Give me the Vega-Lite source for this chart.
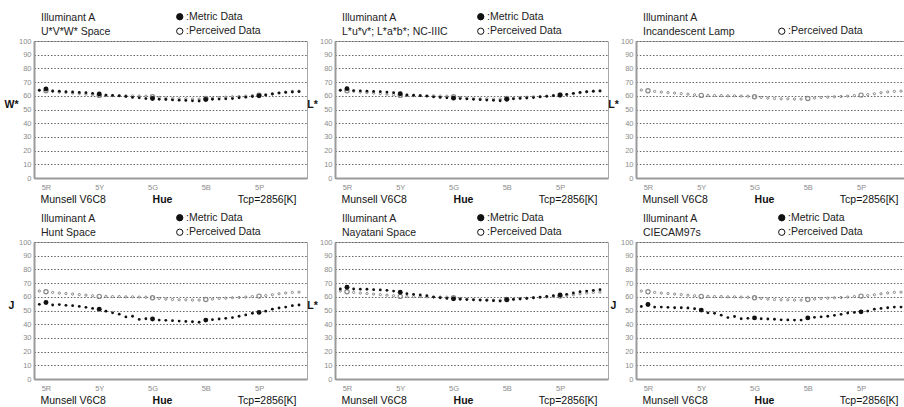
{
  "$schema": "https://vega.github.io/schema/vega-lite/v6.json",
  "background": "white",
  "padding": {"left": 3, "top": 11, "right": 0, "bottom": 0},
  "bounds": "flush",
  "columns": 3,
  "spacing": {"row": 64, "column": 28},
  "datasets": {
    "perceived": [
      {"hue": "2.5R", "value": 64.2}, {"hue": "5R", "value": 63.7}, {"hue": "7.5R", "value": 63.2}, {"hue": "10R", "value": 62.7},
      {"hue": "2.5YR", "value": 62.4}, {"hue": "5YR", "value": 62.0}, {"hue": "7.5YR", "value": 61.6}, {"hue": "10YR", "value": 61.2},
      {"hue": "2.5Y", "value": 60.8}, {"hue": "5Y", "value": 60.3}, {"hue": "7.5Y", "value": 60.3}, {"hue": "10Y", "value": 60.2},
      {"hue": "2.5GY", "value": 60.2}, {"hue": "5GY", "value": 60.0}, {"hue": "7.5GY", "value": 60.0}, {"hue": "10GY", "value": 59.8},
      {"hue": "2.5G", "value": 59.7}, {"hue": "5G", "value": 59.3}, {"hue": "7.5G", "value": 58.8}, {"hue": "10G", "value": 58.3},
      {"hue": "2.5BG", "value": 58.0}, {"hue": "5BG", "value": 57.8}, {"hue": "7.5BG", "value": 57.8}, {"hue": "10BG", "value": 57.6},
      {"hue": "2.5B", "value": 57.6}, {"hue": "5B", "value": 58.0}, {"hue": "7.5B", "value": 58.3}, {"hue": "10B", "value": 58.8},
      {"hue": "2.5PB", "value": 59.0}, {"hue": "5PB", "value": 59.3}, {"hue": "7.5PB", "value": 59.5}, {"hue": "10PB", "value": 59.8},
      {"hue": "2.5P", "value": 60.2}, {"hue": "5P", "value": 60.5}, {"hue": "7.5P", "value": 60.9}, {"hue": "10P", "value": 61.5},
      {"hue": "2.5RP", "value": 62.2}, {"hue": "5RP", "value": 62.8}, {"hue": "7.5RP", "value": 63.2}, {"hue": "10RP", "value": 63.4}
    ],
    "metric": [
      {"panel": "UVW", "hue": "2.5R", "value": 64.0}, {"panel": "UVW", "hue": "5R", "value": 65.0}, {"panel": "UVW", "hue": "7.5R", "value": 63.5}, {"panel": "UVW", "hue": "10R", "value": 63.3},
      {"panel": "UVW", "hue": "2.5YR", "value": 63.0}, {"panel": "UVW", "hue": "5YR", "value": 62.8}, {"panel": "UVW", "hue": "7.5YR", "value": 62.5}, {"panel": "UVW", "hue": "10YR", "value": 62.3},
      {"panel": "UVW", "hue": "2.5Y", "value": 61.8}, {"panel": "UVW", "hue": "5Y", "value": 61.3}, {"panel": "UVW", "hue": "7.5Y", "value": 60.5}, {"panel": "UVW", "hue": "10Y", "value": 60.3},
      {"panel": "UVW", "hue": "2.5GY", "value": 60.0}, {"panel": "UVW", "hue": "5GY", "value": 59.5}, {"panel": "UVW", "hue": "7.5GY", "value": 58.8}, {"panel": "UVW", "hue": "10GY", "value": 58.5},
      {"panel": "UVW", "hue": "2.5G", "value": 58.0}, {"panel": "UVW", "hue": "5G", "value": 58.0}, {"panel": "UVW", "hue": "7.5G", "value": 57.5}, {"panel": "UVW", "hue": "10G", "value": 57.3},
      {"panel": "UVW", "hue": "2.5BG", "value": 57.0}, {"panel": "UVW", "hue": "5BG", "value": 56.8}, {"panel": "UVW", "hue": "7.5BG", "value": 56.6}, {"panel": "UVW", "hue": "10BG", "value": 56.3},
      {"panel": "UVW", "hue": "2.5B", "value": 56.2}, {"panel": "UVW", "hue": "5B", "value": 57.3}, {"panel": "UVW", "hue": "7.5B", "value": 57.5}, {"panel": "UVW", "hue": "10B", "value": 57.6},
      {"panel": "UVW", "hue": "2.5PB", "value": 57.8}, {"panel": "UVW", "hue": "5PB", "value": 58.0}, {"panel": "UVW", "hue": "7.5PB", "value": 58.6}, {"panel": "UVW", "hue": "10PB", "value": 59.0},
      {"panel": "UVW", "hue": "2.5P", "value": 59.5}, {"panel": "UVW", "hue": "5P", "value": 60.0}, {"panel": "UVW", "hue": "7.5P", "value": 60.5}, {"panel": "UVW", "hue": "10P", "value": 61.3},
      {"panel": "UVW", "hue": "2.5RP", "value": 62.0}, {"panel": "UVW", "hue": "5RP", "value": 62.5}, {"panel": "UVW", "hue": "7.5RP", "value": 62.8}, {"panel": "UVW", "hue": "10RP", "value": 63.0},

      {"panel": "Luv", "hue": "2.5R", "value": 64.0}, {"panel": "Luv", "hue": "5R", "value": 65.2}, {"panel": "Luv", "hue": "7.5R", "value": 63.8}, {"panel": "Luv", "hue": "10R", "value": 63.6},
      {"panel": "Luv", "hue": "2.5YR", "value": 63.4}, {"panel": "Luv", "hue": "5YR", "value": 63.2}, {"panel": "Luv", "hue": "7.5YR", "value": 63.0}, {"panel": "Luv", "hue": "10YR", "value": 62.7},
      {"panel": "Luv", "hue": "2.5Y", "value": 62.3}, {"panel": "Luv", "hue": "5Y", "value": 61.5}, {"panel": "Luv", "hue": "7.5Y", "value": 60.6}, {"panel": "Luv", "hue": "10Y", "value": 60.4},
      {"panel": "Luv", "hue": "2.5GY", "value": 60.1}, {"panel": "Luv", "hue": "5GY", "value": 59.8}, {"panel": "Luv", "hue": "7.5GY", "value": 59.2}, {"panel": "Luv", "hue": "10GY", "value": 58.8},
      {"panel": "Luv", "hue": "2.5G", "value": 58.5}, {"panel": "Luv", "hue": "5G", "value": 58.3}, {"panel": "Luv", "hue": "7.5G", "value": 58.0}, {"panel": "Luv", "hue": "10G", "value": 57.7},
      {"panel": "Luv", "hue": "2.5BG", "value": 57.4}, {"panel": "Luv", "hue": "5BG", "value": 57.2}, {"panel": "Luv", "hue": "7.5BG", "value": 56.9}, {"panel": "Luv", "hue": "10BG", "value": 56.7},
      {"panel": "Luv", "hue": "2.5B", "value": 56.4}, {"panel": "Luv", "hue": "5B", "value": 57.5}, {"panel": "Luv", "hue": "7.5B", "value": 57.8}, {"panel": "Luv", "hue": "10B", "value": 58.1},
      {"panel": "Luv", "hue": "2.5PB", "value": 58.4}, {"panel": "Luv", "hue": "5PB", "value": 58.7}, {"panel": "Luv", "hue": "7.5PB", "value": 59.2}, {"panel": "Luv", "hue": "10PB", "value": 59.6},
      {"panel": "Luv", "hue": "2.5P", "value": 60.1}, {"panel": "Luv", "hue": "5P", "value": 60.6}, {"panel": "Luv", "hue": "7.5P", "value": 61.0}, {"panel": "Luv", "hue": "10P", "value": 61.8},
      {"panel": "Luv", "hue": "2.5RP", "value": 62.5}, {"panel": "Luv", "hue": "5RP", "value": 63.0}, {"panel": "Luv", "hue": "7.5RP", "value": 63.4}, {"panel": "Luv", "hue": "10RP", "value": 63.6},

      {"panel": "Hunt", "hue": "2.5R", "value": 54.5}, {"panel": "Hunt", "hue": "5R", "value": 55.8}, {"panel": "Hunt", "hue": "7.5R", "value": 54.0}, {"panel": "Hunt", "hue": "10R", "value": 54.3},
      {"panel": "Hunt", "hue": "2.5YR", "value": 53.8}, {"panel": "Hunt", "hue": "5YR", "value": 53.5}, {"panel": "Hunt", "hue": "7.5YR", "value": 53.0}, {"panel": "Hunt", "hue": "10YR", "value": 52.3},
      {"panel": "Hunt", "hue": "2.5Y", "value": 51.5}, {"panel": "Hunt", "hue": "5Y", "value": 51.0}, {"panel": "Hunt", "hue": "7.5Y", "value": 49.5}, {"panel": "Hunt", "hue": "10Y", "value": 48.3},
      {"panel": "Hunt", "hue": "2.5GY", "value": 47.3}, {"panel": "Hunt", "hue": "5GY", "value": 45.3}, {"panel": "Hunt", "hue": "7.5GY", "value": 45.8}, {"panel": "Hunt", "hue": "10GY", "value": 43.5},
      {"panel": "Hunt", "hue": "2.5G", "value": 44.0}, {"panel": "Hunt", "hue": "5G", "value": 43.8}, {"panel": "Hunt", "hue": "7.5G", "value": 43.0}, {"panel": "Hunt", "hue": "10G", "value": 42.8},
      {"panel": "Hunt", "hue": "2.5BG", "value": 42.6}, {"panel": "Hunt", "hue": "5BG", "value": 42.3}, {"panel": "Hunt", "hue": "7.5BG", "value": 42.0}, {"panel": "Hunt", "hue": "10BG", "value": 41.8},
      {"panel": "Hunt", "hue": "2.5B", "value": 41.4}, {"panel": "Hunt", "hue": "5B", "value": 43.0}, {"panel": "Hunt", "hue": "7.5B", "value": 43.3}, {"panel": "Hunt", "hue": "10B", "value": 43.8},
      {"panel": "Hunt", "hue": "2.5PB", "value": 44.3}, {"panel": "Hunt", "hue": "5PB", "value": 44.8}, {"panel": "Hunt", "hue": "7.5PB", "value": 45.8}, {"panel": "Hunt", "hue": "10PB", "value": 46.8},
      {"panel": "Hunt", "hue": "2.5P", "value": 48.0}, {"panel": "Hunt", "hue": "5P", "value": 48.6}, {"panel": "Hunt", "hue": "7.5P", "value": 49.5}, {"panel": "Hunt", "hue": "10P", "value": 51.0},
      {"panel": "Hunt", "hue": "2.5RP", "value": 51.8}, {"panel": "Hunt", "hue": "5RP", "value": 52.5}, {"panel": "Hunt", "hue": "7.5RP", "value": 53.5}, {"panel": "Hunt", "hue": "10RP", "value": 54.0},

      {"panel": "Nayatani", "hue": "2.5R", "value": 65.7}, {"panel": "Nayatani", "hue": "5R", "value": 67.0}, {"panel": "Nayatani", "hue": "7.5R", "value": 65.7}, {"panel": "Nayatani", "hue": "10R", "value": 65.6},
      {"panel": "Nayatani", "hue": "2.5YR", "value": 65.5}, {"panel": "Nayatani", "hue": "5YR", "value": 65.2}, {"panel": "Nayatani", "hue": "7.5YR", "value": 65.0}, {"panel": "Nayatani", "hue": "10YR", "value": 64.7},
      {"panel": "Nayatani", "hue": "2.5Y", "value": 64.2}, {"panel": "Nayatani", "hue": "5Y", "value": 63.3}, {"panel": "Nayatani", "hue": "7.5Y", "value": 62.3}, {"panel": "Nayatani", "hue": "10Y", "value": 61.8},
      {"panel": "Nayatani", "hue": "2.5GY", "value": 61.3}, {"panel": "Nayatani", "hue": "5GY", "value": 60.8}, {"panel": "Nayatani", "hue": "7.5GY", "value": 59.8}, {"panel": "Nayatani", "hue": "10GY", "value": 59.3},
      {"panel": "Nayatani", "hue": "2.5G", "value": 58.8}, {"panel": "Nayatani", "hue": "5G", "value": 58.5}, {"panel": "Nayatani", "hue": "7.5G", "value": 58.2}, {"panel": "Nayatani", "hue": "10G", "value": 58.0},
      {"panel": "Nayatani", "hue": "2.5BG", "value": 57.8}, {"panel": "Nayatani", "hue": "5BG", "value": 57.6}, {"panel": "Nayatani", "hue": "7.5BG", "value": 57.4}, {"panel": "Nayatani", "hue": "10BG", "value": 57.2},
      {"panel": "Nayatani", "hue": "2.5B", "value": 56.9}, {"panel": "Nayatani", "hue": "5B", "value": 57.8}, {"panel": "Nayatani", "hue": "7.5B", "value": 58.1}, {"panel": "Nayatani", "hue": "10B", "value": 58.4},
      {"panel": "Nayatani", "hue": "2.5PB", "value": 58.8}, {"panel": "Nayatani", "hue": "5PB", "value": 59.3}, {"panel": "Nayatani", "hue": "7.5PB", "value": 59.8}, {"panel": "Nayatani", "hue": "10PB", "value": 60.3},
      {"panel": "Nayatani", "hue": "2.5P", "value": 60.8}, {"panel": "Nayatani", "hue": "5P", "value": 61.3}, {"panel": "Nayatani", "hue": "7.5P", "value": 61.8}, {"panel": "Nayatani", "hue": "10P", "value": 62.8},
      {"panel": "Nayatani", "hue": "2.5RP", "value": 63.7}, {"panel": "Nayatani", "hue": "5RP", "value": 64.2}, {"panel": "Nayatani", "hue": "7.5RP", "value": 64.7}, {"panel": "Nayatani", "hue": "10RP", "value": 65.2},

      {"panel": "CIECAM97s", "hue": "2.5R", "value": 52.9}, {"panel": "CIECAM97s", "hue": "5R", "value": 54.4}, {"panel": "CIECAM97s", "hue": "7.5R", "value": 52.5}, {"panel": "CIECAM97s", "hue": "10R", "value": 52.5},
      {"panel": "CIECAM97s", "hue": "2.5YR", "value": 52.3}, {"panel": "CIECAM97s", "hue": "5YR", "value": 52.0}, {"panel": "CIECAM97s", "hue": "7.5YR", "value": 52.0}, {"panel": "CIECAM97s", "hue": "10YR", "value": 51.8},
      {"panel": "CIECAM97s", "hue": "2.5Y", "value": 51.3}, {"panel": "CIECAM97s", "hue": "5Y", "value": 50.3}, {"panel": "CIECAM97s", "hue": "7.5Y", "value": 48.3}, {"panel": "CIECAM97s", "hue": "10Y", "value": 48.0},
      {"panel": "CIECAM97s", "hue": "2.5GY", "value": 46.6}, {"panel": "CIECAM97s", "hue": "5GY", "value": 44.8}, {"panel": "CIECAM97s", "hue": "7.5GY", "value": 45.6}, {"panel": "CIECAM97s", "hue": "10GY", "value": 44.0},
      {"panel": "CIECAM97s", "hue": "2.5G", "value": 44.3}, {"panel": "CIECAM97s", "hue": "5G", "value": 44.6}, {"panel": "CIECAM97s", "hue": "7.5G", "value": 44.0}, {"panel": "CIECAM97s", "hue": "10G", "value": 43.8},
      {"panel": "CIECAM97s", "hue": "2.5BG", "value": 43.6}, {"panel": "CIECAM97s", "hue": "5BG", "value": 43.2}, {"panel": "CIECAM97s", "hue": "7.5BG", "value": 43.1}, {"panel": "CIECAM97s", "hue": "10BG", "value": 43.0},
      {"panel": "CIECAM97s", "hue": "2.5B", "value": 43.0}, {"panel": "CIECAM97s", "hue": "5B", "value": 44.6}, {"panel": "CIECAM97s", "hue": "7.5B", "value": 45.0}, {"panel": "CIECAM97s", "hue": "10B", "value": 45.4},
      {"panel": "CIECAM97s", "hue": "2.5PB", "value": 45.8}, {"panel": "CIECAM97s", "hue": "5PB", "value": 46.5}, {"panel": "CIECAM97s", "hue": "7.5PB", "value": 47.2}, {"panel": "CIECAM97s", "hue": "10PB", "value": 48.2},
      {"panel": "CIECAM97s", "hue": "2.5P", "value": 48.6}, {"panel": "CIECAM97s", "hue": "5P", "value": 49.0}, {"panel": "CIECAM97s", "hue": "7.5P", "value": 49.6}, {"panel": "CIECAM97s", "hue": "10P", "value": 51.0},
      {"panel": "CIECAM97s", "hue": "2.5RP", "value": 51.5}, {"panel": "CIECAM97s", "hue": "5RP", "value": 52.0}, {"panel": "CIECAM97s", "hue": "7.5RP", "value": 52.5}, {"panel": "CIECAM97s", "hue": "10RP", "value": 52.5}
    ]
  },
  "concat": [
    {
      "width": 273, "height": 137,
      "title": {"text": ["Illuminant A", "U*V*W* Space"]},
      "resolve": {"scale": {"x": "independent"}, "axis": {"x": "independent"}},
      "layer": [
        {
          "data": {"name": "perceived"},
          "transform": [{"filter": "indexof(['5R','5Y','5G','5B','5P'], datum.hue) < 0"}],
          "mark": {"type": "point", "shape": "circle", "size": 5, "opacity": 1, "stroke": "#888888", "strokeWidth": 1},
          "encoding": {
            "x": {"field": "hue", "type": "ordinal", "scale": {"type": "point", "domain": ["2.5R","5R","7.5R","10R","2.5YR","5YR","7.5YR","10YR","2.5Y","5Y","7.5Y","10Y","2.5GY","5GY","7.5GY","10GY","2.5G","5G","7.5G","10G","2.5BG","5BG","7.5BG","10BG","2.5B","5B","7.5B","10B","2.5PB","5PB","7.5PB","10PB","2.5P","5P","7.5P","10P","2.5RP","5RP","7.5RP","10RP"], "padding": 1.03, "align": 0.4},
              "axis": {"orient": "bottom", "values": ["5R","5Y","5G","5B","5P"], "labelAngle": 0, "labelPadding": 5, "grid": false, "title": "Hue", "titleFontWeight": "bold", "titleX": 128, "titleY": 24.5, "titleAlign": "center", "titleBaseline": "alphabetic"}},
            "y": {"field": "value", "type": "quantitative", "scale": {"domain": [0, 100]},
              "axis": {"values": [0,10,20,30,40,50,60,70,80,90,100], "tickCount": 11, "labelOverlap": false, "grid": true, "labelPadding": 3, "title": "W*", "titleAngle": 0, "titleFontWeight": "bold", "titleX": -23, "titleY": 63, "titleAlign": "center", "titleBaseline": "middle"}},
            "fill": {"datum": "Perceived Data", "type": "nominal", "scale": {"domain": ["Metric Data", "Perceived Data"], "range": ["#111111", "transparent"]},
              "legend": {"title": null, "legendX": 140.5, "legendY": -29.5, "labelExpr": "':' + datum.label"}}
          }
        },
        {
          "data": {"name": "metric"},
          "transform": [{"filter": "datum.panel == 'UVW' && indexof(['5R','5Y','5G','5B','5P'], datum.hue) < 0"}],
          "mark": {"type": "point", "shape": "circle", "size": 8, "opacity": 1, "strokeWidth": 0},
          "encoding": {
            "x": {"field": "hue", "type": "ordinal", "scale": {"type": "point", "domain": ["2.5R","5R","7.5R","10R","2.5YR","5YR","7.5YR","10YR","2.5Y","5Y","7.5Y","10Y","2.5GY","5GY","7.5GY","10GY","2.5G","5G","7.5G","10G","2.5BG","5BG","7.5BG","10BG","2.5B","5B","7.5B","10B","2.5PB","5PB","7.5PB","10PB","2.5P","5P","7.5P","10P","2.5RP","5RP","7.5RP","10RP"], "padding": 1.03, "align": 0.4},
              "axis": {"orient": "bottom", "labels": false, "domain": false, "grid": false, "title": "Munsell V6C8", "titleFontWeight": "normal", "titleX": 6, "titleY": 24.5, "titleAlign": "left", "titleBaseline": "alphabetic"}},
            "y": {"field": "value", "type": "quantitative"},
            "fill": {"datum": "Metric Data", "type": "nominal", "scale": {"domain": ["Metric Data", "Perceived Data"], "range": ["#111111", "transparent"]}}
          }
        },
        {
          "data": {"name": "perceived"},
          "transform": [{"filter": "indexof(['5R','5Y','5G','5B','5P'], datum.hue) >= 0"}],
          "mark": {"type": "point", "shape": "circle", "size": 18, "opacity": 1, "stroke": "#888888", "strokeWidth": 1.2},
          "encoding": {
            "x": {"field": "hue", "type": "ordinal", "scale": {"type": "point", "domain": ["2.5R","5R","7.5R","10R","2.5YR","5YR","7.5YR","10YR","2.5Y","5Y","7.5Y","10Y","2.5GY","5GY","7.5GY","10GY","2.5G","5G","7.5G","10G","2.5BG","5BG","7.5BG","10BG","2.5B","5B","7.5B","10B","2.5PB","5PB","7.5PB","10PB","2.5P","5P","7.5P","10P","2.5RP","5RP","7.5RP","10RP"], "padding": 1.03, "align": 0.4},
              "axis": {"orient": "bottom", "labels": false, "domain": false, "grid": false, "title": "Tcp=2856[K]", "titleFontWeight": "normal", "titleX": 262, "titleY": 24.5, "titleAlign": "right", "titleBaseline": "alphabetic"}},
            "y": {"field": "value", "type": "quantitative"},
            "fill": {"datum": "Perceived Data", "type": "nominal", "scale": {"domain": ["Metric Data", "Perceived Data"], "range": ["#111111", "transparent"]}}
          }
        },
        {
          "data": {"name": "metric"},
          "transform": [{"filter": "datum.panel == 'UVW' && indexof(['5R','5Y','5G','5B','5P'], datum.hue) >= 0"}],
          "mark": {"type": "point", "shape": "circle", "size": 24, "opacity": 1, "strokeWidth": 0},
          "encoding": {
            "x": {"field": "hue", "type": "ordinal", "scale": {"type": "point", "domain": ["2.5R","5R","7.5R","10R","2.5YR","5YR","7.5YR","10YR","2.5Y","5Y","7.5Y","10Y","2.5GY","5GY","7.5GY","10GY","2.5G","5G","7.5G","10G","2.5BG","5BG","7.5BG","10BG","2.5B","5B","7.5B","10B","2.5PB","5PB","7.5PB","10PB","2.5P","5P","7.5P","10P","2.5RP","5RP","7.5RP","10RP"], "padding": 1.03, "align": 0.4}, "axis": null},
            "y": {"field": "value", "type": "quantitative"},
            "fill": {"datum": "Metric Data", "type": "nominal", "scale": {"domain": ["Metric Data", "Perceived Data"], "range": ["#111111", "transparent"]}}
          }
        }
      ]
    },
    {
      "width": 273, "height": 137,
      "title": {"text": ["Illuminant A", "L*u*v*; L*a*b*; NC-IIIC"]},
      "resolve": {"scale": {"x": "independent"}, "axis": {"x": "independent"}},
      "layer": [
        {
          "data": {"name": "perceived"},
          "transform": [{"filter": "indexof(['5R','5Y','5G','5B','5P'], datum.hue) < 0"}],
          "mark": {"type": "point", "shape": "circle", "size": 5, "opacity": 1, "stroke": "#888888", "strokeWidth": 1},
          "encoding": {
            "x": {"field": "hue", "type": "ordinal", "scale": {"type": "point", "domain": ["2.5R","5R","7.5R","10R","2.5YR","5YR","7.5YR","10YR","2.5Y","5Y","7.5Y","10Y","2.5GY","5GY","7.5GY","10GY","2.5G","5G","7.5G","10G","2.5BG","5BG","7.5BG","10BG","2.5B","5B","7.5B","10B","2.5PB","5PB","7.5PB","10PB","2.5P","5P","7.5P","10P","2.5RP","5RP","7.5RP","10RP"], "padding": 1.03, "align": 0.4},
              "axis": {"orient": "bottom", "values": ["5R","5Y","5G","5B","5P"], "labelAngle": 0, "labelPadding": 5, "grid": false, "title": "Hue", "titleFontWeight": "bold", "titleX": 128, "titleY": 24.5, "titleAlign": "center", "titleBaseline": "alphabetic"}},
            "y": {"field": "value", "type": "quantitative", "scale": {"domain": [0, 100]},
              "axis": {"values": [0,10,20,30,40,50,60,70,80,90,100], "tickCount": 11, "labelOverlap": false, "grid": true, "labelPadding": 3, "title": "L*", "titleAngle": 0, "titleFontWeight": "bold", "titleX": -23, "titleY": 63, "titleAlign": "center", "titleBaseline": "middle"}},
            "fill": {"datum": "Perceived Data", "type": "nominal", "scale": {"domain": ["Metric Data", "Perceived Data"], "range": ["#111111", "transparent"]},
              "legend": {"title": null, "legendX": 140.5, "legendY": -29.5, "labelExpr": "':' + datum.label"}}
          }
        },
        {
          "data": {"name": "metric"},
          "transform": [{"filter": "datum.panel == 'Luv' && indexof(['5R','5Y','5G','5B','5P'], datum.hue) < 0"}],
          "mark": {"type": "point", "shape": "circle", "size": 8, "opacity": 1, "strokeWidth": 0},
          "encoding": {
            "x": {"field": "hue", "type": "ordinal", "scale": {"type": "point", "domain": ["2.5R","5R","7.5R","10R","2.5YR","5YR","7.5YR","10YR","2.5Y","5Y","7.5Y","10Y","2.5GY","5GY","7.5GY","10GY","2.5G","5G","7.5G","10G","2.5BG","5BG","7.5BG","10BG","2.5B","5B","7.5B","10B","2.5PB","5PB","7.5PB","10PB","2.5P","5P","7.5P","10P","2.5RP","5RP","7.5RP","10RP"], "padding": 1.03, "align": 0.4},
              "axis": {"orient": "bottom", "labels": false, "domain": false, "grid": false, "title": "Munsell V6C8", "titleFontWeight": "normal", "titleX": 6, "titleY": 24.5, "titleAlign": "left", "titleBaseline": "alphabetic"}},
            "y": {"field": "value", "type": "quantitative"},
            "fill": {"datum": "Metric Data", "type": "nominal", "scale": {"domain": ["Metric Data", "Perceived Data"], "range": ["#111111", "transparent"]}}
          }
        },
        {
          "data": {"name": "perceived"},
          "transform": [{"filter": "indexof(['5R','5Y','5G','5B','5P'], datum.hue) >= 0"}],
          "mark": {"type": "point", "shape": "circle", "size": 18, "opacity": 1, "stroke": "#888888", "strokeWidth": 1.2},
          "encoding": {
            "x": {"field": "hue", "type": "ordinal", "scale": {"type": "point", "domain": ["2.5R","5R","7.5R","10R","2.5YR","5YR","7.5YR","10YR","2.5Y","5Y","7.5Y","10Y","2.5GY","5GY","7.5GY","10GY","2.5G","5G","7.5G","10G","2.5BG","5BG","7.5BG","10BG","2.5B","5B","7.5B","10B","2.5PB","5PB","7.5PB","10PB","2.5P","5P","7.5P","10P","2.5RP","5RP","7.5RP","10RP"], "padding": 1.03, "align": 0.4},
              "axis": {"orient": "bottom", "labels": false, "domain": false, "grid": false, "title": "Tcp=2856[K]", "titleFontWeight": "normal", "titleX": 262, "titleY": 24.5, "titleAlign": "right", "titleBaseline": "alphabetic"}},
            "y": {"field": "value", "type": "quantitative"},
            "fill": {"datum": "Perceived Data", "type": "nominal", "scale": {"domain": ["Metric Data", "Perceived Data"], "range": ["#111111", "transparent"]}}
          }
        },
        {
          "data": {"name": "metric"},
          "transform": [{"filter": "datum.panel == 'Luv' && indexof(['5R','5Y','5G','5B','5P'], datum.hue) >= 0"}],
          "mark": {"type": "point", "shape": "circle", "size": 24, "opacity": 1, "strokeWidth": 0},
          "encoding": {
            "x": {"field": "hue", "type": "ordinal", "scale": {"type": "point", "domain": ["2.5R","5R","7.5R","10R","2.5YR","5YR","7.5YR","10YR","2.5Y","5Y","7.5Y","10Y","2.5GY","5GY","7.5GY","10GY","2.5G","5G","7.5G","10G","2.5BG","5BG","7.5BG","10BG","2.5B","5B","7.5B","10B","2.5PB","5PB","7.5PB","10PB","2.5P","5P","7.5P","10P","2.5RP","5RP","7.5RP","10RP"], "padding": 1.03, "align": 0.4}, "axis": null},
            "y": {"field": "value", "type": "quantitative"},
            "fill": {"datum": "Metric Data", "type": "nominal", "scale": {"domain": ["Metric Data", "Perceived Data"], "range": ["#111111", "transparent"]}}
          }
        }
      ]
    },
    {
      "width": 273, "height": 137,
      "title": {"text": ["Illuminant A", "Incandescent Lamp"], "offset": -11.5},
      "resolve": {"scale": {"x": "independent"}, "axis": {"x": "independent"}},
      "layer": [
        {
          "data": {"name": "perceived"},
          "transform": [{"filter": "indexof(['5R','5Y','5G','5B','5P'], datum.hue) < 0"}],
          "mark": {"type": "point", "shape": "circle", "size": 5, "opacity": 1, "stroke": "#888888", "strokeWidth": 1},
          "encoding": {
            "x": {"field": "hue", "type": "ordinal", "scale": {"type": "point", "domain": ["2.5R","5R","7.5R","10R","2.5YR","5YR","7.5YR","10YR","2.5Y","5Y","7.5Y","10Y","2.5GY","5GY","7.5GY","10GY","2.5G","5G","7.5G","10G","2.5BG","5BG","7.5BG","10BG","2.5B","5B","7.5B","10B","2.5PB","5PB","7.5PB","10PB","2.5P","5P","7.5P","10P","2.5RP","5RP","7.5RP","10RP"], "padding": 1.03, "align": 0.4},
              "axis": {"orient": "bottom", "values": ["5R","5Y","5G","5B","5P"], "labelAngle": 0, "labelPadding": 5, "grid": false, "title": "Hue", "titleFontWeight": "bold", "titleX": 128, "titleY": 24.5, "titleAlign": "center", "titleBaseline": "alphabetic"}},
            "y": {"field": "value", "type": "quantitative", "scale": {"domain": [0, 100]},
              "axis": {"values": [0,10,20,30,40,50,60,70,80,90,100], "tickCount": 11, "labelOverlap": false, "grid": true, "labelPadding": 3, "title": "L*", "titleAngle": 0, "titleFontWeight": "bold", "titleX": -23, "titleY": 63, "titleAlign": "center", "titleBaseline": "middle"}},
            "fill": {"datum": "Perceived Data", "type": "nominal", "scale": {"domain": ["Perceived Data"], "range": ["transparent"]},
              "legend": {"title": null, "legendX": 140.5, "legendY": -15, "labelExpr": "':' + datum.label"}}
          }
        },
        {
          "data": {"name": "metric"},
          "transform": [{"filter": "datum.panel == 'Lamp'"}],
          "mark": {"type": "point", "shape": "circle", "size": 8, "opacity": 1, "strokeWidth": 0},
          "encoding": {
            "x": {"field": "hue", "type": "ordinal", "scale": {"type": "point", "domain": ["2.5R","5R","7.5R","10R","2.5YR","5YR","7.5YR","10YR","2.5Y","5Y","7.5Y","10Y","2.5GY","5GY","7.5GY","10GY","2.5G","5G","7.5G","10G","2.5BG","5BG","7.5BG","10BG","2.5B","5B","7.5B","10B","2.5PB","5PB","7.5PB","10PB","2.5P","5P","7.5P","10P","2.5RP","5RP","7.5RP","10RP"], "padding": 1.03, "align": 0.4},
              "axis": {"orient": "bottom", "labels": false, "domain": false, "grid": false, "title": "Munsell V6C8", "titleFontWeight": "normal", "titleX": 6, "titleY": 24.5, "titleAlign": "left", "titleBaseline": "alphabetic"}},
            "y": {"field": "value", "type": "quantitative"},
            "fill": {"datum": "Perceived Data", "type": "nominal", "scale": {"domain": ["Perceived Data"], "range": ["transparent"]}}
          }
        },
        {
          "data": {"name": "perceived"},
          "transform": [{"filter": "indexof(['5R','5Y','5G','5B','5P'], datum.hue) >= 0"}],
          "mark": {"type": "point", "shape": "circle", "size": 18, "opacity": 1, "stroke": "#888888", "strokeWidth": 1.2},
          "encoding": {
            "x": {"field": "hue", "type": "ordinal", "scale": {"type": "point", "domain": ["2.5R","5R","7.5R","10R","2.5YR","5YR","7.5YR","10YR","2.5Y","5Y","7.5Y","10Y","2.5GY","5GY","7.5GY","10GY","2.5G","5G","7.5G","10G","2.5BG","5BG","7.5BG","10BG","2.5B","5B","7.5B","10B","2.5PB","5PB","7.5PB","10PB","2.5P","5P","7.5P","10P","2.5RP","5RP","7.5RP","10RP"], "padding": 1.03, "align": 0.4},
              "axis": {"orient": "bottom", "labels": false, "domain": false, "grid": false, "title": "Tcp=2856[K]", "titleFontWeight": "normal", "titleX": 262, "titleY": 24.5, "titleAlign": "right", "titleBaseline": "alphabetic"}},
            "y": {"field": "value", "type": "quantitative"},
            "fill": {"datum": "Perceived Data", "type": "nominal", "scale": {"domain": ["Perceived Data"], "range": ["transparent"]}}
          }
        }
      ]
    },
    {
      "width": 273, "height": 137,
      "title": {"text": ["Illuminant A", "Hunt Space"]},
      "resolve": {"scale": {"x": "independent"}, "axis": {"x": "independent"}},
      "layer": [
        {
          "data": {"name": "perceived"},
          "transform": [{"filter": "indexof(['5R','5Y','5G','5B','5P'], datum.hue) < 0"}],
          "mark": {"type": "point", "shape": "circle", "size": 5, "opacity": 1, "stroke": "#888888", "strokeWidth": 1},
          "encoding": {
            "x": {"field": "hue", "type": "ordinal", "scale": {"type": "point", "domain": ["2.5R","5R","7.5R","10R","2.5YR","5YR","7.5YR","10YR","2.5Y","5Y","7.5Y","10Y","2.5GY","5GY","7.5GY","10GY","2.5G","5G","7.5G","10G","2.5BG","5BG","7.5BG","10BG","2.5B","5B","7.5B","10B","2.5PB","5PB","7.5PB","10PB","2.5P","5P","7.5P","10P","2.5RP","5RP","7.5RP","10RP"], "padding": 1.03, "align": 0.4},
              "axis": {"orient": "bottom", "values": ["5R","5Y","5G","5B","5P"], "labelAngle": 0, "labelPadding": 5, "grid": false, "title": "Hue", "titleFontWeight": "bold", "titleX": 128, "titleY": 24.5, "titleAlign": "center", "titleBaseline": "alphabetic"}},
            "y": {"field": "value", "type": "quantitative", "scale": {"domain": [0, 100]},
              "axis": {"values": [0,10,20,30,40,50,60,70,80,90,100], "tickCount": 11, "labelOverlap": false, "grid": true, "labelPadding": 3, "title": "J", "titleAngle": 0, "titleFontWeight": "bold", "titleX": -23, "titleY": 63, "titleAlign": "center", "titleBaseline": "middle"}},
            "fill": {"datum": "Perceived Data", "type": "nominal", "scale": {"domain": ["Metric Data", "Perceived Data"], "range": ["#111111", "transparent"]},
              "legend": {"title": null, "legendX": 140.5, "legendY": -29.5, "labelExpr": "':' + datum.label"}}
          }
        },
        {
          "data": {"name": "metric"},
          "transform": [{"filter": "datum.panel == 'Hunt' && indexof(['5R','5Y','5G','5B','5P'], datum.hue) < 0"}],
          "mark": {"type": "point", "shape": "circle", "size": 8, "opacity": 1, "strokeWidth": 0},
          "encoding": {
            "x": {"field": "hue", "type": "ordinal", "scale": {"type": "point", "domain": ["2.5R","5R","7.5R","10R","2.5YR","5YR","7.5YR","10YR","2.5Y","5Y","7.5Y","10Y","2.5GY","5GY","7.5GY","10GY","2.5G","5G","7.5G","10G","2.5BG","5BG","7.5BG","10BG","2.5B","5B","7.5B","10B","2.5PB","5PB","7.5PB","10PB","2.5P","5P","7.5P","10P","2.5RP","5RP","7.5RP","10RP"], "padding": 1.03, "align": 0.4},
              "axis": {"orient": "bottom", "labels": false, "domain": false, "grid": false, "title": "Munsell V6C8", "titleFontWeight": "normal", "titleX": 6, "titleY": 24.5, "titleAlign": "left", "titleBaseline": "alphabetic"}},
            "y": {"field": "value", "type": "quantitative"},
            "fill": {"datum": "Metric Data", "type": "nominal", "scale": {"domain": ["Metric Data", "Perceived Data"], "range": ["#111111", "transparent"]}}
          }
        },
        {
          "data": {"name": "perceived"},
          "transform": [{"filter": "indexof(['5R','5Y','5G','5B','5P'], datum.hue) >= 0"}],
          "mark": {"type": "point", "shape": "circle", "size": 18, "opacity": 1, "stroke": "#888888", "strokeWidth": 1.2},
          "encoding": {
            "x": {"field": "hue", "type": "ordinal", "scale": {"type": "point", "domain": ["2.5R","5R","7.5R","10R","2.5YR","5YR","7.5YR","10YR","2.5Y","5Y","7.5Y","10Y","2.5GY","5GY","7.5GY","10GY","2.5G","5G","7.5G","10G","2.5BG","5BG","7.5BG","10BG","2.5B","5B","7.5B","10B","2.5PB","5PB","7.5PB","10PB","2.5P","5P","7.5P","10P","2.5RP","5RP","7.5RP","10RP"], "padding": 1.03, "align": 0.4},
              "axis": {"orient": "bottom", "labels": false, "domain": false, "grid": false, "title": "Tcp=2856[K]", "titleFontWeight": "normal", "titleX": 262, "titleY": 24.5, "titleAlign": "right", "titleBaseline": "alphabetic"}},
            "y": {"field": "value", "type": "quantitative"},
            "fill": {"datum": "Perceived Data", "type": "nominal", "scale": {"domain": ["Metric Data", "Perceived Data"], "range": ["#111111", "transparent"]}}
          }
        },
        {
          "data": {"name": "metric"},
          "transform": [{"filter": "datum.panel == 'Hunt' && indexof(['5R','5Y','5G','5B','5P'], datum.hue) >= 0"}],
          "mark": {"type": "point", "shape": "circle", "size": 24, "opacity": 1, "strokeWidth": 0},
          "encoding": {
            "x": {"field": "hue", "type": "ordinal", "scale": {"type": "point", "domain": ["2.5R","5R","7.5R","10R","2.5YR","5YR","7.5YR","10YR","2.5Y","5Y","7.5Y","10Y","2.5GY","5GY","7.5GY","10GY","2.5G","5G","7.5G","10G","2.5BG","5BG","7.5BG","10BG","2.5B","5B","7.5B","10B","2.5PB","5PB","7.5PB","10PB","2.5P","5P","7.5P","10P","2.5RP","5RP","7.5RP","10RP"], "padding": 1.03, "align": 0.4}, "axis": null},
            "y": {"field": "value", "type": "quantitative"},
            "fill": {"datum": "Metric Data", "type": "nominal", "scale": {"domain": ["Metric Data", "Perceived Data"], "range": ["#111111", "transparent"]}}
          }
        }
      ]
    },
    {
      "width": 273, "height": 137,
      "title": {"text": ["Illuminant A", "Nayatani Space"]},
      "resolve": {"scale": {"x": "independent"}, "axis": {"x": "independent"}},
      "layer": [
        {
          "data": {"name": "perceived"},
          "transform": [{"filter": "indexof(['5R','5Y','5G','5B','5P'], datum.hue) < 0"}],
          "mark": {"type": "point", "shape": "circle", "size": 5, "opacity": 1, "stroke": "#888888", "strokeWidth": 1},
          "encoding": {
            "x": {"field": "hue", "type": "ordinal", "scale": {"type": "point", "domain": ["2.5R","5R","7.5R","10R","2.5YR","5YR","7.5YR","10YR","2.5Y","5Y","7.5Y","10Y","2.5GY","5GY","7.5GY","10GY","2.5G","5G","7.5G","10G","2.5BG","5BG","7.5BG","10BG","2.5B","5B","7.5B","10B","2.5PB","5PB","7.5PB","10PB","2.5P","5P","7.5P","10P","2.5RP","5RP","7.5RP","10RP"], "padding": 1.03, "align": 0.4},
              "axis": {"orient": "bottom", "values": ["5R","5Y","5G","5B","5P"], "labelAngle": 0, "labelPadding": 5, "grid": false, "title": "Hue", "titleFontWeight": "bold", "titleX": 128, "titleY": 24.5, "titleAlign": "center", "titleBaseline": "alphabetic"}},
            "y": {"field": "value", "type": "quantitative", "scale": {"domain": [0, 100]},
              "axis": {"values": [0,10,20,30,40,50,60,70,80,90,100], "tickCount": 11, "labelOverlap": false, "grid": true, "labelPadding": 3, "title": "L*", "titleAngle": 0, "titleFontWeight": "bold", "titleX": -23, "titleY": 63, "titleAlign": "center", "titleBaseline": "middle"}},
            "fill": {"datum": "Perceived Data", "type": "nominal", "scale": {"domain": ["Metric Data", "Perceived Data"], "range": ["#111111", "transparent"]},
              "legend": {"title": null, "legendX": 140.5, "legendY": -29.5, "labelExpr": "':' + datum.label"}}
          }
        },
        {
          "data": {"name": "metric"},
          "transform": [{"filter": "datum.panel == 'Nayatani' && indexof(['5R','5Y','5G','5B','5P'], datum.hue) < 0"}],
          "mark": {"type": "point", "shape": "circle", "size": 8, "opacity": 1, "strokeWidth": 0},
          "encoding": {
            "x": {"field": "hue", "type": "ordinal", "scale": {"type": "point", "domain": ["2.5R","5R","7.5R","10R","2.5YR","5YR","7.5YR","10YR","2.5Y","5Y","7.5Y","10Y","2.5GY","5GY","7.5GY","10GY","2.5G","5G","7.5G","10G","2.5BG","5BG","7.5BG","10BG","2.5B","5B","7.5B","10B","2.5PB","5PB","7.5PB","10PB","2.5P","5P","7.5P","10P","2.5RP","5RP","7.5RP","10RP"], "padding": 1.03, "align": 0.4},
              "axis": {"orient": "bottom", "labels": false, "domain": false, "grid": false, "title": "Munsell V6C8", "titleFontWeight": "normal", "titleX": 6, "titleY": 24.5, "titleAlign": "left", "titleBaseline": "alphabetic"}},
            "y": {"field": "value", "type": "quantitative"},
            "fill": {"datum": "Metric Data", "type": "nominal", "scale": {"domain": ["Metric Data", "Perceived Data"], "range": ["#111111", "transparent"]}}
          }
        },
        {
          "data": {"name": "perceived"},
          "transform": [{"filter": "indexof(['5R','5Y','5G','5B','5P'], datum.hue) >= 0"}],
          "mark": {"type": "point", "shape": "circle", "size": 18, "opacity": 1, "stroke": "#888888", "strokeWidth": 1.2},
          "encoding": {
            "x": {"field": "hue", "type": "ordinal", "scale": {"type": "point", "domain": ["2.5R","5R","7.5R","10R","2.5YR","5YR","7.5YR","10YR","2.5Y","5Y","7.5Y","10Y","2.5GY","5GY","7.5GY","10GY","2.5G","5G","7.5G","10G","2.5BG","5BG","7.5BG","10BG","2.5B","5B","7.5B","10B","2.5PB","5PB","7.5PB","10PB","2.5P","5P","7.5P","10P","2.5RP","5RP","7.5RP","10RP"], "padding": 1.03, "align": 0.4},
              "axis": {"orient": "bottom", "labels": false, "domain": false, "grid": false, "title": "Tcp=2856[K]", "titleFontWeight": "normal", "titleX": 262, "titleY": 24.5, "titleAlign": "right", "titleBaseline": "alphabetic"}},
            "y": {"field": "value", "type": "quantitative"},
            "fill": {"datum": "Perceived Data", "type": "nominal", "scale": {"domain": ["Metric Data", "Perceived Data"], "range": ["#111111", "transparent"]}}
          }
        },
        {
          "data": {"name": "metric"},
          "transform": [{"filter": "datum.panel == 'Nayatani' && indexof(['5R','5Y','5G','5B','5P'], datum.hue) >= 0"}],
          "mark": {"type": "point", "shape": "circle", "size": 24, "opacity": 1, "strokeWidth": 0},
          "encoding": {
            "x": {"field": "hue", "type": "ordinal", "scale": {"type": "point", "domain": ["2.5R","5R","7.5R","10R","2.5YR","5YR","7.5YR","10YR","2.5Y","5Y","7.5Y","10Y","2.5GY","5GY","7.5GY","10GY","2.5G","5G","7.5G","10G","2.5BG","5BG","7.5BG","10BG","2.5B","5B","7.5B","10B","2.5PB","5PB","7.5PB","10PB","2.5P","5P","7.5P","10P","2.5RP","5RP","7.5RP","10RP"], "padding": 1.03, "align": 0.4}, "axis": null},
            "y": {"field": "value", "type": "quantitative"},
            "fill": {"datum": "Metric Data", "type": "nominal", "scale": {"domain": ["Metric Data", "Perceived Data"], "range": ["#111111", "transparent"]}}
          }
        }
      ]
    },
    {
      "width": 273, "height": 137,
      "title": {"text": ["Illuminant A", "CIECAM97s"]},
      "resolve": {"scale": {"x": "independent"}, "axis": {"x": "independent"}},
      "layer": [
        {
          "data": {"name": "perceived"},
          "transform": [{"filter": "indexof(['5R','5Y','5G','5B','5P'], datum.hue) < 0"}],
          "mark": {"type": "point", "shape": "circle", "size": 5, "opacity": 1, "stroke": "#888888", "strokeWidth": 1},
          "encoding": {
            "x": {"field": "hue", "type": "ordinal", "scale": {"type": "point", "domain": ["2.5R","5R","7.5R","10R","2.5YR","5YR","7.5YR","10YR","2.5Y","5Y","7.5Y","10Y","2.5GY","5GY","7.5GY","10GY","2.5G","5G","7.5G","10G","2.5BG","5BG","7.5BG","10BG","2.5B","5B","7.5B","10B","2.5PB","5PB","7.5PB","10PB","2.5P","5P","7.5P","10P","2.5RP","5RP","7.5RP","10RP"], "padding": 1.03, "align": 0.4},
              "axis": {"orient": "bottom", "values": ["5R","5Y","5G","5B","5P"], "labelAngle": 0, "labelPadding": 5, "grid": false, "title": "Hue", "titleFontWeight": "bold", "titleX": 128, "titleY": 24.5, "titleAlign": "center", "titleBaseline": "alphabetic"}},
            "y": {"field": "value", "type": "quantitative", "scale": {"domain": [0, 100]},
              "axis": {"values": [0,10,20,30,40,50,60,70,80,90,100], "tickCount": 11, "labelOverlap": false, "grid": true, "labelPadding": 3, "title": "J", "titleAngle": 0, "titleFontWeight": "bold", "titleX": -23, "titleY": 63, "titleAlign": "center", "titleBaseline": "middle"}},
            "fill": {"datum": "Perceived Data", "type": "nominal", "scale": {"domain": ["Metric Data", "Perceived Data"], "range": ["#111111", "transparent"]},
              "legend": {"title": null, "legendX": 140.5, "legendY": -29.5, "labelExpr": "':' + datum.label"}}
          }
        },
        {
          "data": {"name": "metric"},
          "transform": [{"filter": "datum.panel == 'CIECAM97s' && indexof(['5R','5Y','5G','5B','5P'], datum.hue) < 0"}],
          "mark": {"type": "point", "shape": "circle", "size": 8, "opacity": 1, "strokeWidth": 0},
          "encoding": {
            "x": {"field": "hue", "type": "ordinal", "scale": {"type": "point", "domain": ["2.5R","5R","7.5R","10R","2.5YR","5YR","7.5YR","10YR","2.5Y","5Y","7.5Y","10Y","2.5GY","5GY","7.5GY","10GY","2.5G","5G","7.5G","10G","2.5BG","5BG","7.5BG","10BG","2.5B","5B","7.5B","10B","2.5PB","5PB","7.5PB","10PB","2.5P","5P","7.5P","10P","2.5RP","5RP","7.5RP","10RP"], "padding": 1.03, "align": 0.4},
              "axis": {"orient": "bottom", "labels": false, "domain": false, "grid": false, "title": "Munsell V6C8", "titleFontWeight": "normal", "titleX": 6, "titleY": 24.5, "titleAlign": "left", "titleBaseline": "alphabetic"}},
            "y": {"field": "value", "type": "quantitative"},
            "fill": {"datum": "Metric Data", "type": "nominal", "scale": {"domain": ["Metric Data", "Perceived Data"], "range": ["#111111", "transparent"]}}
          }
        },
        {
          "data": {"name": "perceived"},
          "transform": [{"filter": "indexof(['5R','5Y','5G','5B','5P'], datum.hue) >= 0"}],
          "mark": {"type": "point", "shape": "circle", "size": 18, "opacity": 1, "stroke": "#888888", "strokeWidth": 1.2},
          "encoding": {
            "x": {"field": "hue", "type": "ordinal", "scale": {"type": "point", "domain": ["2.5R","5R","7.5R","10R","2.5YR","5YR","7.5YR","10YR","2.5Y","5Y","7.5Y","10Y","2.5GY","5GY","7.5GY","10GY","2.5G","5G","7.5G","10G","2.5BG","5BG","7.5BG","10BG","2.5B","5B","7.5B","10B","2.5PB","5PB","7.5PB","10PB","2.5P","5P","7.5P","10P","2.5RP","5RP","7.5RP","10RP"], "padding": 1.03, "align": 0.4},
              "axis": {"orient": "bottom", "labels": false, "domain": false, "grid": false, "title": "Tcp=2856[K]", "titleFontWeight": "normal", "titleX": 262, "titleY": 24.5, "titleAlign": "right", "titleBaseline": "alphabetic"}},
            "y": {"field": "value", "type": "quantitative"},
            "fill": {"datum": "Perceived Data", "type": "nominal", "scale": {"domain": ["Metric Data", "Perceived Data"], "range": ["#111111", "transparent"]}}
          }
        },
        {
          "data": {"name": "metric"},
          "transform": [{"filter": "datum.panel == 'CIECAM97s' && indexof(['5R','5Y','5G','5B','5P'], datum.hue) >= 0"}],
          "mark": {"type": "point", "shape": "circle", "size": 24, "opacity": 1, "strokeWidth": 0},
          "encoding": {
            "x": {"field": "hue", "type": "ordinal", "scale": {"type": "point", "domain": ["2.5R","5R","7.5R","10R","2.5YR","5YR","7.5YR","10YR","2.5Y","5Y","7.5Y","10Y","2.5GY","5GY","7.5GY","10GY","2.5G","5G","7.5G","10G","2.5BG","5BG","7.5BG","10BG","2.5B","5B","7.5B","10B","2.5PB","5PB","7.5PB","10PB","2.5P","5P","7.5P","10P","2.5RP","5RP","7.5RP","10RP"], "padding": 1.03, "align": 0.4}, "axis": null},
            "y": {"field": "value", "type": "quantitative"},
            "fill": {"datum": "Metric Data", "type": "nominal", "scale": {"domain": ["Metric Data", "Perceived Data"], "range": ["#111111", "transparent"]}}
          }
        }
      ]
    }
  ],
  "resolve": {"scale": {"fill": "independent"}, "legend": {"fill": "independent"}},
  "config": {
    "font": "Liberation Sans",
    "view": {"stroke": "#a8a8a8", "strokeWidth": 1},
    "title": {"anchor": "start", "frame": "group", "fontSize": 10.5, "fontWeight": "normal", "color": "#222222", "lineHeight": 14.5, "offset": -26, "dx": 7},
    "axis": {"labelFont": "Liberation Sans", "labelColor": "#8c8c8c", "labelFontSize": 7.5, "ticks": false, "domainColor": "#9a9a9a", "domainWidth": 2, "gridColor": "#666666", "gridOpacity": 1, "gridDash": [1.5, 1.8], "gridWidth": 1, "titleColor": "#111111", "titleFontSize": 10.5, "titleFont": "Liberation Sans"},
    "axisY": {"labelOverlap": false, "tickCount": 11},
    "legend": {"orient": "none", "padding": 0, "symbolType": "circle", "symbolSize": 40, "symbolStrokeColor": "#111111", "symbolStrokeWidth": 1, "labelFont": "Liberation Sans", "labelFontSize": 10.5, "labelColor": "#222222", "labelOffset": 1, "rowPadding": 3.5, "symbolOffset": 0}
  }
}
